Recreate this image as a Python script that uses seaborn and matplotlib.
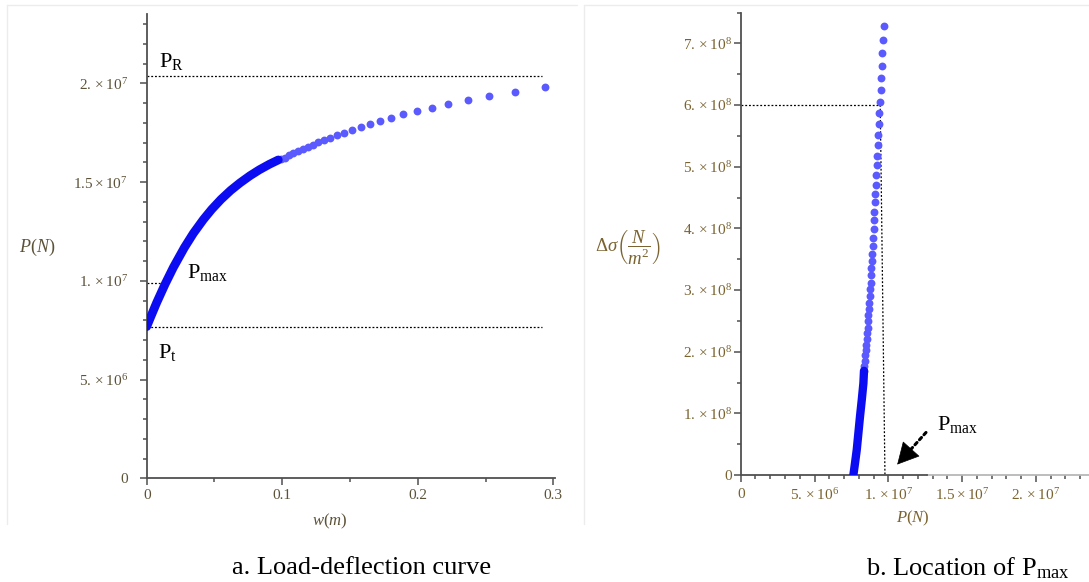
import numpy as np
import pandas as pd
import matplotlib
matplotlib.use('Agg')
import matplotlib.pyplot as plt
from matplotlib.ticker import MultipleLocator, FuncFormatter
from matplotlib.lines import Line2D
import seaborn as sns

# --- a. load-deflection curve: sparse markers (w in m, P in N)
w_pts = [0.294, 0.2718, 0.2529, 0.2369, 0.2226, 0.2103, 0.1993, 0.1894, 0.1801,
         0.1722, 0.1648, 0.1579, 0.1515, 0.1456, 0.1402, 0.1353, 0.1308, 0.1265,
         0.1225, 0.1187, 0.1150, 0.1115, 0.1081, 0.1049, 0.1018, 0.0988]
P_pts = [19.83e6, 19.57e6, 19.37e6, 19.15e6, 18.95e6, 18.77e6, 18.60e6, 18.43e6, 18.26e6,
         18.09e6, 17.92e6, 17.77e6, 17.64e6, 17.50e6, 17.37e6, 17.25e6, 17.13e6, 17.01e6,
         16.90e6, 16.78e6, 16.67e6, 16.56e6, 16.45e6, 16.35e6, 16.24e6, 16.17e6]
# dense part, drawn as a solid band
w_dense = [0.0971, 0.0905, 0.0831, 0.0762, 0.0689, 0.0620, 0.0548, 0.0480, 0.0418,
           0.0344, 0.0278, 0.0197, 0.0135, 0.0074, 0.0030, 0.0]
P_dense = [16.12e6, 15.90e6, 15.62e6, 15.32e6, 14.96e6, 14.58e6, 14.12e6, 13.62e6, 13.10e6,
           12.40e6, 11.68e6, 10.68e6, 9.82e6, 8.90e6, 8.18e6, 7.68e6]
P_R = 20.37e6
P_t = 7.68e6
P_max = 9.9e6
w_ref_end = 0.2917
w_pmax_end = 0.0148

# --- b. stress difference vs load
P2_pts = [9.68e6, 9.64e6, 9.59e6, 9.55e6, 9.53e6, 9.48e6, 9.44e6, 9.39e6, 9.35e6, 9.30e6,
          9.28e6, 9.26e6, 9.21e6, 9.19e6, 9.15e6, 9.12e6, 9.10e6, 9.05e6, 9.03e6, 9.01e6,
          8.96e6, 8.94e6, 8.92e6, 8.90e6, 8.85e6, 8.83e6, 8.81e6, 8.76e6, 8.74e6, 8.71e6,
          8.67e6, 8.65e6, 8.62e6, 8.60e6, 8.56e6, 8.54e6, 8.49e6, 8.47e6, 8.44e6, 8.40e6,
          8.37e6, 8.35e6]
ds_pts = [7.28e8, 7.06e8, 6.85e8, 6.64e8, 6.44e8, 6.25e8, 6.05e8, 5.87e8, 5.69e8, 5.52e8,
          5.35e8, 5.18e8, 5.02e8, 4.86e8, 4.71e8, 4.56e8, 4.42e8, 4.27e8, 4.13e8, 3.99e8,
          3.85e8, 3.72e8, 3.59e8, 3.47e8, 3.35e8, 3.24e8, 3.12e8, 3.01e8, 2.90e8, 2.79e8,
          2.69e8, 2.59e8, 2.49e8, 2.39e8, 2.30e8, 2.21e8, 2.11e8, 2.03e8, 1.94e8, 1.85e8,
          1.77e8, 1.69e8]
P2_dense = [8.35e6, 8.31e6, 8.20e6, 8.08e6, 7.97e6, 7.86e6, 7.74e6, 7.63e6]
ds_dense = [1.69e8, 1.49e8, 1.22e8, 0.95e8, 0.68e8, 0.41e8, 0.19e8, 0.0]
ds_mark = 6.0e8
P_mark_top = 9.45e6
P_mark_bot = 9.77e6
arrow_tail = (12.55e6, 0.69e8)
arrow_tip = (10.6e6, 0.17e8)

sns.set_theme(style='ticks')
plt.rcParams['font.family'] = ['Liberation Serif', 'DejaVu Serif']
plt.rcParams['mathtext.fontset'] = 'custom'
plt.rcParams['mathtext.rm'] = 'Liberation Serif'
plt.rcParams['mathtext.it'] = 'Liberation Serif:italic'
plt.rcParams['mathtext.bf'] = 'Liberation Serif:bold'

axis_col = '#505050'
lab_col1 = '#5c5238'
lab_col2 = '#7a6330'
pt_col = '#5a5aff'
band_col = '#0c0cf2'


def maple_fmt(v, pos):
    if abs(v) < 1e-9:
        return '0'
    e = int(np.floor(np.log10(abs(v)) + 1e-9))
    m = f'{v / 10**e:g}'
    if '.' not in m:
        m += '.'
    return rf'${m}\times10^{{{e}}}$'


fig = plt.figure(figsize=(10.89, 5.82), dpi=100, facecolor='white')
ax1 = fig.add_axes([0.1347, 0.1782, 0.3746, 0.7974])
ax2 = fig.add_axes([0.6802, 0.1838, 0.3199, 0.7947])

# ---------------- panel a
sns.scatterplot(x=w_pts, y=P_pts, ax=ax1, color=pt_col, s=32, linewidth=0, zorder=3)
sns.lineplot(x=w_dense, y=P_dense, ax=ax1, color=band_col, lw=6.3, sort=False,
             estimator=None, zorder=4, solid_capstyle='round', solid_joinstyle='round')
ax1.plot([0, w_ref_end], [P_R, P_R], ls=(0, (1.5, 1.5)), color='black', lw=0.9)
ax1.plot([0, w_ref_end], [P_t, P_t], ls=(0, (1.5, 1.5)), color='black', lw=0.9)
ax1.plot([0, w_pmax_end], [P_max, P_max], ls=(0, (1.5, 1.5)), color='black', lw=0.9)

ax1.set_xlim(0, 0.301)
ax1.set_ylim(0, 2.35e7)
ax1.xaxis.set_major_locator(MultipleLocator(0.1))
ax1.xaxis.set_minor_locator(MultipleLocator(0.05))
ax1.yaxis.set_major_locator(MultipleLocator(5e6))
ax1.yaxis.set_minor_locator(MultipleLocator(1e6))
ax1.xaxis.set_major_formatter(FuncFormatter(lambda v, p: '0' if v == 0 else f'{v:.1f}'))
ax1.yaxis.set_major_formatter(FuncFormatter(maple_fmt))
ax1.tick_params(axis='both', which='major', length=5, width=1.1, color=axis_col,
                labelcolor=lab_col1, labelsize=11)
ax1.tick_params(axis='both', which='minor', length=3, width=1.1, color=axis_col)
ax1.tick_params(axis='y', pad=8.5)
ax1.tick_params(axis='x', pad=3)
ax1.set_xlabel('')
ax1.set_ylabel('')

ax1.text(0.0091, 20.83e6, r'P$_{\mathrm{R}}$', fontsize=16, va='baseline', color='black')
ax1.text(0.0297, 10.15e6, r'P$_{\mathrm{max}}$', fontsize=16, va='baseline', color='black')
ax1.text(0.0083, 6.09e6, r'P$_{\mathrm{t}}$', fontsize=16, va='baseline', color='black')

# ---------------- panel b
sns.scatterplot(x=P2_pts, y=ds_pts, ax=ax2, color=pt_col, s=32, linewidth=0, zorder=3)
sns.lineplot(x=P2_dense, y=ds_dense, ax=ax2, color=band_col, lw=6.0, sort=False,
             estimator=None, zorder=4, solid_capstyle='round', solid_joinstyle='round')
ax2.plot([0, P_mark_top], [ds_mark, ds_mark], ls=(0, (1.5, 1.5)), color='black', lw=0.9)
ax2.plot([P_mark_top, P_mark_bot], [ds_mark, 0], ls=(0, (1.5, 1.5)), color='black', lw=0.9)
ax2.annotate('', xy=arrow_tip, xytext=arrow_tail,
             arrowprops=dict(arrowstyle='-', ls=(0, (1, 1.2)), lw=2.2, color='black',
                             shrinkA=0, shrinkB=6))
ax2.annotate('', xy=arrow_tip,
             xytext=(arrow_tip[0] + 0.25 * (arrow_tail[0] - arrow_tip[0]),
                     arrow_tip[1] + 0.25 * (arrow_tail[1] - arrow_tip[1])),
             arrowprops=dict(arrowstyle='-|>,head_length=0.8,head_width=0.42', lw=0.5,
                             color='black', shrinkA=0, shrinkB=0, mutation_scale=18))
ax2.text(13.3e6, 0.73e8, r'P$_{\mathrm{max}}$', fontsize=16, va='baseline', color='black')

ax2.set_xlim(0, 2.36e7)
ax2.set_ylim(0, 7.5e8)
ax2.xaxis.set_major_locator(MultipleLocator(5e6))
ax2.xaxis.set_minor_locator(MultipleLocator(1e6))
ax2.yaxis.set_major_locator(MultipleLocator(1e8))
ax2.yaxis.set_minor_locator(MultipleLocator(5e7))
ax2.xaxis.set_major_formatter(FuncFormatter(maple_fmt))
ax2.yaxis.set_major_formatter(FuncFormatter(maple_fmt))
ax2.tick_params(axis='both', which='major', length=5, width=1.1, color=axis_col,
                labelcolor=lab_col2, labelsize=11)
ax2.tick_params(axis='both', which='minor', length=3, width=1.1, color=axis_col)
ax2.tick_params(axis='y', pad=1.5)
ax2.tick_params(axis='x', pad=4)
ax2.set_xlabel('')
ax2.set_ylabel('')

for ax in (ax1, ax2):
    sns.despine(ax=ax)
    for side in ('left', 'bottom'):
        ax.spines[side].set_color(axis_col)
        ax.spines[side].set_linewidth(1.3)

# right part of panel b's x-axis is faded
fade = '#b8b8b8'
ax2.spines['bottom'].set_bounds(0, 1.26e7)
ax2.plot([1.26e7, 2.36e7], [0, 0], color=fade, lw=1.3, clip_on=False, zorder=1)
for t in ax2.xaxis.get_major_ticks() + ax2.xaxis.get_minor_ticks():
    if t.get_loc() > 1.26e7:
        t.tick1line.set_color(fade)
        t.label1.set_color(fade)

# axis titles, placed like the Maple export
fig.text(330 / 1089, 1 - 521 / 582, r'$w(m)$', ha='center', va='center',
         fontsize=12, color=lab_col1)
fig.text(37 / 1089, 1 - 247 / 582, r'$P(N)$', ha='center', va='center',
         fontsize=13, color=lab_col1)
fig.text(913 / 1089, 1 - 518 / 582, r'$P(N)$', ha='center', va='center',
         fontsize=12, color=lab_col2)
fig.text(628 / 1089, 1 - 248 / 582, r'$\Delta\sigma\left(\dfrac{N}{m^{2}}\right)$',
         ha='center', va='center', fontsize=13.5, color=lab_col2)

# captions
fig.text(362 / 1089, 1 - 568 / 582, 'a. Load-deflection curve', ha='center',
         va='center', fontsize=19, color='black')
fig.text(968 / 1089, 1 - 568 / 582, r'b. Location of P$_{\mathrm{max}}$', ha='center',
         va='center', fontsize=19, color='black')

# faint borders of the two pasted panels
for xs, ys in [([0.006, 0.53], [0.991, 0.991]), ([0.006, 0.006], [0.991, 0.10]),
               ([0.536, 1.0], [0.991, 0.991]), ([0.536, 0.536], [0.991, 0.10])]:
    fig.add_artist(Line2D(xs, ys, color='#ececec', lw=1))

fig.savefig('out.png', dpi=100, facecolor='white')
